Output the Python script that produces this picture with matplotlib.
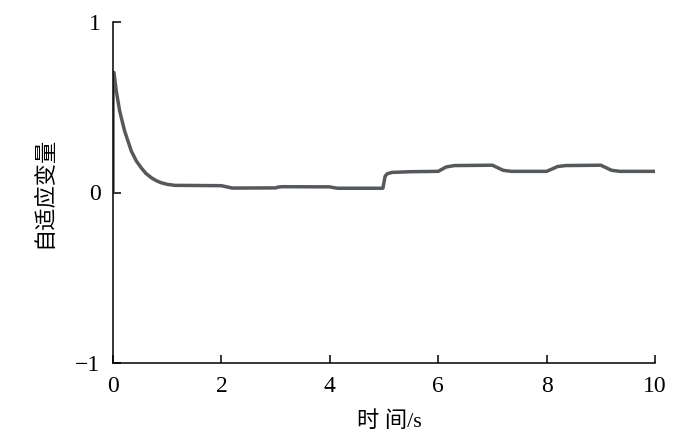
import matplotlib
matplotlib.use('Agg')
import matplotlib.pyplot as plt

# values
t = [0.0, 0.0, 0.018, 0.06, 0.123, 0.215, 0.338, 0.43, 0.52, 0.61, 0.71, 0.80, 0.89, 1.0, 1.14,
     2.0, 2.1, 2.2, 3.0, 3.05, 3.12, 4.0, 4.06, 4.14, 4.98,
     5.0, 5.02, 5.06, 5.15, 5.5, 6.0, 6.05, 6.15, 6.3, 7.0, 7.1, 7.2, 7.35,
     8.0, 8.08, 8.2, 8.35, 9.0, 9.1, 9.2, 9.35, 10.0]
u = [0.0, 0.70, 0.704, 0.596, 0.478, 0.36, 0.243, 0.185, 0.145, 0.111, 0.086, 0.069, 0.057, 0.048, 0.042,
     0.040, 0.033, 0.026, 0.027, 0.032, 0.034, 0.033, 0.029, 0.025, 0.025,
     0.06, 0.095, 0.11, 0.118, 0.122, 0.124, 0.133, 0.15, 0.158, 0.16, 0.145, 0.13, 0.124,
     0.124, 0.135, 0.152, 0.158, 0.16, 0.145, 0.13, 0.124, 0.124]

xticks = [0, 2, 4, 6, 8, 10]
yticks = [-1, 0, 1]

plt.rcParams['font.family'] = ['Liberation Serif', 'Noto Sans CJK SC']

fig = plt.figure(figsize=(7, 4.32), dpi=100)
ax = fig.add_axes([113/700, 1 - 363/432, 542/700, 341/432])

ax.plot(t, u, color='#56595c', linewidth=2.5, solid_joinstyle='round', solid_capstyle='round')

ax.set_xlim(0, 10)
ax.set_ylim(-1, 1)
ax.set_xticks(xticks)
ax.set_yticks(yticks)
ax.spines['top'].set_visible(False)
ax.spines['right'].set_visible(False)
for s in ['left', 'bottom']:
    ax.spines[s].set_linewidth(1.1)
ax.tick_params(direction='in', length=6, width=1.1, labelsize=17)
ax.tick_params(axis='x', pad=9)
ax.tick_params(axis='y', pad=9)

ax.text(0.509, -0.172, '时 间/s', transform=ax.transAxes, ha='center', va='center',
        fontsize=16, family=['Liberation Serif', 'Noto Sans CJK SC'])
ax.text(-0.127, 0.5, '自适应变量', transform=ax.transAxes, ha='center', va='center',
        rotation=90, fontsize=16, family=['Noto Sans CJK SC'])

plt.savefig('out.png', dpi=100)
